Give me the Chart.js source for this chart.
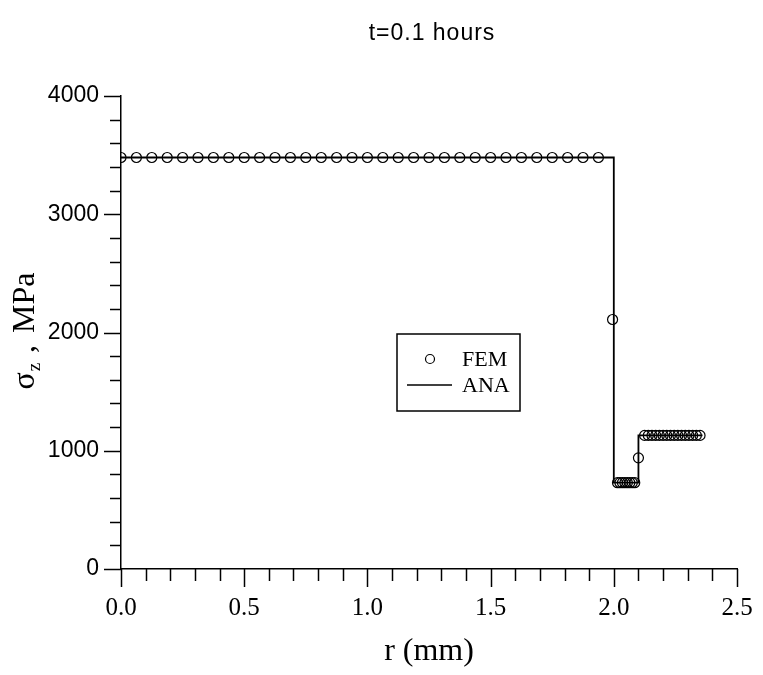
<!DOCTYPE html>
<html>
<head>
<meta charset="utf-8">
<script src="https://cdn.jsdelivr.net/npm/chart.js@4.4.0/dist/chart.umd.min.js"></script>
<style>
  html, body { margin: 0; padding: 0; background: #fff; }
  #wrap { width: 763px; height: 675px; }
</style>
</head>
<body>
<div id="wrap"><canvas id="stressChart" width="763" height="675"></canvas></div>
<script>
// Analytical solution (step profile)
const anaR = [0, 2.0, 2.0, 2.1, 2.1, 2.36];
const anaS = [3480, 3480, 730, 730, 1130, 1130];

// FEM nodal results
const femR = [
  0, 0.0625, 0.125, 0.1875, 0.25, 0.3125, 0.375, 0.4375,
  0.5, 0.5625, 0.625, 0.6875, 0.75, 0.8125, 0.875, 0.9375,
  1.0, 1.0625, 1.125, 1.1875, 1.25, 1.3125, 1.375, 1.4375,
  1.5, 1.5625, 1.625, 1.6875, 1.75, 1.8125, 1.875, 1.9375,
  1.995,
  2.015, 2.025, 2.035, 2.045, 2.055, 2.065, 2.075, 2.085,
  2.1,
  2.125, 2.14, 2.155, 2.17, 2.185, 2.2, 2.215, 2.23,
  2.245, 2.26, 2.275, 2.29, 2.305, 2.32, 2.335, 2.35
];
const femS = [
  3480, 3480, 3480, 3480, 3480, 3480, 3480, 3480,
  3480, 3480, 3480, 3480, 3480, 3480, 3480, 3480,
  3480, 3480, 3480, 3480, 3480, 3480, 3480, 3480,
  3480, 3480, 3480, 3480, 3480, 3480, 3480, 3480,
  2110,
  730, 730, 730, 730, 730, 730, 730, 730,
  940,
  1130, 1130, 1130, 1130, 1130, 1130, 1130, 1130,
  1130, 1130, 1130, 1130, 1130, 1130, 1130, 1130
];

const xTicks = [0, 0.5, 1.0, 1.5, 2.0, 2.5];
const yTicks = [0, 1000, 2000, 3000, 4000];
const xMinor = 0.1;
const yMinor = 200;

const chartTitle = 't=0.1 hours';
const xTitle = 'r (mm)';
const legendLabels = ['FEM', 'ANA'];

const toPts = (xs, ys) => xs.map((x, i) => ({ x: x, y: ys[i] }));

// Draws outward major/minor ticks, the plot title, the y title and the boxed legend
const decorations = {
  id: 'decorations',
  afterDraw(chart) {
    const ctx = chart.ctx;
    const xs = chart.scales.x;
    const ys = chart.scales.y;
    const area = chart.chartArea;
    ctx.save();
    ctx.strokeStyle = '#000';
    ctx.lineWidth = 1.5;

    // x ticks (downwards)
    for (let v = xs.min; v <= xs.max + 1e-9; v += xMinor) {
      const major = xTicks.some(t => Math.abs(t - v) < 1e-6);
      const px = Math.round(xs.getPixelForValue(v)) + 0.5;
      ctx.beginPath();
      ctx.moveTo(px, area.bottom);
      ctx.lineTo(px, area.bottom + (major ? 18 : 12));
      ctx.stroke();
    }
    // y ticks (to the left)
    for (let v = ys.min; v <= ys.max + 1e-9; v += yMinor) {
      const major = yTicks.some(t => Math.abs(t - v) < 1e-6);
      const py = Math.round(ys.getPixelForValue(v)) + 0.5;
      ctx.beginPath();
      ctx.moveTo(area.left, py);
      ctx.lineTo(area.left - (major ? 17 : 11), py);
      ctx.stroke();
    }

    // plot title
    ctx.fillStyle = '#000';
    ctx.font = '23px "Liberation Sans", Arial, sans-serif';
    ctx.letterSpacing = '1px';
    ctx.textAlign = 'center';
    ctx.textBaseline = 'middle';
    ctx.fillText(chartTitle, 432, 34);
    ctx.letterSpacing = '0px';

    // y axis title with subscript
    ctx.save();
    ctx.translate(24, 331);
    ctx.rotate(-Math.PI / 2);
    const big = '32px "Liberation Serif", "Times New Roman", serif';
    const small = '19px "Liberation Serif", "Times New Roman", serif';
    ctx.font = big;
    const wSig = ctx.measureText('\u03c3').width;
    const wComma = ctx.measureText(',').width;
    const wUnit = ctx.measureText('MPa').width;
    ctx.font = small;
    const wZ = ctx.measureText('z').width;
    const gap1 = 10, gap2 = 12;
    const total = wSig + 1 + wZ + gap1 + wComma + gap2 + wUnit;
    let x0 = -total / 2;
    ctx.textAlign = 'left';
    ctx.textBaseline = 'alphabetic';
    ctx.font = big;
    ctx.fillText('\u03c3', x0, 10);
    x0 += wSig + 1;
    ctx.font = small;
    ctx.fillText('z', x0, 16);
    x0 += wZ + gap1;
    ctx.font = big;
    ctx.fillText(',', x0, 10);
    x0 += wComma + gap2;
    ctx.fillText('MPa', x0, 10);
    ctx.restore();

    // legend box
    const bx = 397, by = 334, bw = 123, bh = 77;
    ctx.lineWidth = 1.5;
    ctx.strokeRect(bx, by, bw, bh);
    ctx.beginPath();
    ctx.arc(430, 359, 4.5, 0, Math.PI * 2);
    ctx.lineWidth = 1.2;
    ctx.stroke();
    ctx.beginPath();
    ctx.lineWidth = 1.5;
    ctx.moveTo(407, 385);
    ctx.lineTo(452, 385);
    ctx.stroke();
    ctx.font = '22px "Liberation Serif", "Times New Roman", serif';
    ctx.textAlign = 'left';
    ctx.textBaseline = 'middle';
    ctx.fillText(legendLabels[0], 462, 360);
    ctx.fillText(legendLabels[1], 462, 386);
    ctx.restore();
  }
};

const ctx = document.getElementById('stressChart').getContext('2d');
new Chart(ctx, {
  type: 'scatter',
  data: {
    datasets: [
      {
        label: legendLabels[1],
        data: toPts(anaR, anaS),
        showLine: true,
        borderColor: '#000',
        borderWidth: 1.8,
        pointRadius: 0,
        tension: 0,
      },
      {
        label: legendLabels[0],
        data: toPts(femR, femS),
        showLine: false,
        pointStyle: 'circle',
        pointRadius: 5,
        pointBorderWidth: 1.2,
        pointBorderColor: '#000',
        pointBackgroundColor: 'rgba(255,255,255,0)',
      },
    ],
  },
  options: {
    responsive: false,
    animation: false,
    layout: { padding: { top: 96, right: 26, left: 0, bottom: 0 } },
    plugins: {
      legend: { display: false },
      tooltip: { enabled: false },
    },
    scales: {
      x: {
        type: 'linear',
        min: 0,
        max: 2.5,
        afterFit: (s) => { s.height = 106; s.paddingLeft = 0; s.paddingRight = 0; },
        afterBuildTicks: (s) => { s.ticks = xTicks.map(v => ({ value: v })); },
        grid: { display: false, drawTicks: false },
        border: { display: true, color: '#000', width: 1.5 },
        ticks: {
          padding: 24,
          color: '#000',
          font: { family: '"Liberation Serif", "Times New Roman", serif', size: 25 },
          callback: (v) => Number(v).toFixed(1),
        },
        title: {
          display: true,
          text: xTitle,
          color: '#000',
          font: { family: '"Liberation Serif", "Times New Roman", serif', size: 32 },
          padding: { top: 0, bottom: 4 },
        },
      },
      y: {
        type: 'linear',
        min: 0,
        max: 4000,
        afterFit: (s) => { s.width = 121; s.paddingTop = 0; s.paddingBottom = 0; },
        afterBuildTicks: (s) => { s.ticks = yTicks.map(v => ({ value: v })); },
        grid: { display: false, drawTicks: false },
        border: { display: true, color: '#000', width: 1.5 },
        ticks: {
          padding: 22,
          color: '#000',
          font: { family: '"Liberation Sans", Arial, sans-serif', size: 23 },
          callback: (v) => String(v),
        },
      },
    },
  },
  plugins: [decorations],
});
</script>
</body>
</html>
